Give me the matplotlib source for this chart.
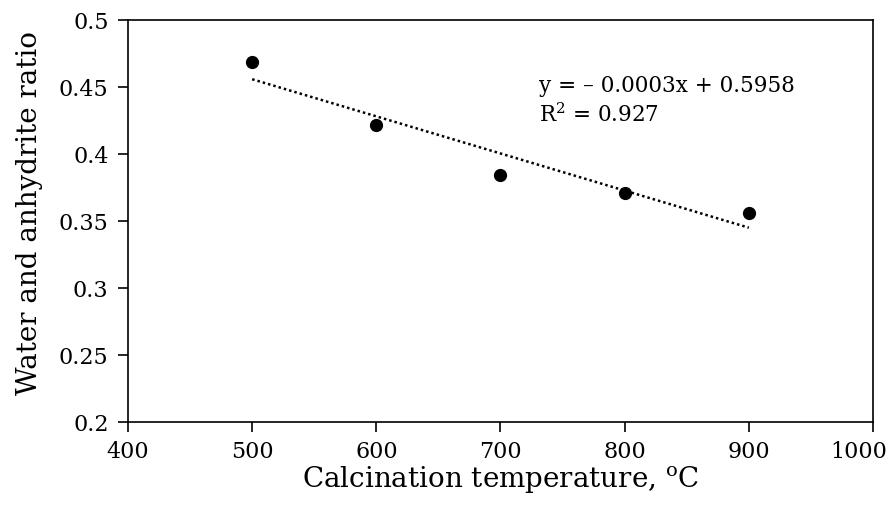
import numpy as np
import matplotlib
matplotlib.use("Agg")
import matplotlib.pyplot as plt
import matplotlib.transforms as mtransforms

plt.rcParams["font.family"] = ["DejaVu Serif"]
plt.rcParams["mathtext.fontset"] = "dejavuserif"

# data
temperature = [500, 600, 700, 800, 900]
ratio = [0.469, 0.422, 0.384, 0.371, 0.356]

xticks = [400, 500, 600, 700, 800, 900, 1000]
yticks = [0.2, 0.25, 0.3, 0.35, 0.4, 0.45, 0.5]

fig = plt.figure(figsize=(8.93, 5.07), dpi=100)
ax = fig.add_axes([128 / 893, 1 - 422 / 507, (873 - 128) / 893, (422 - 20) / 507])

# linear trendline
slope, intercept = np.polyfit(temperature, ratio, 1)
tx = np.array([temperature[0], temperature[-1]])
ax.plot(tx, slope * tx + intercept, linestyle=(0, (1, 1.2)), color="black", lw=1.8)

ax.plot(temperature, ratio, "o", color="black", markersize=8.5)

ax.text(731, 0.4463, "y = \u2013 0.0003x + 0.5958", fontsize=15.5, va="baseline", ha="left")
ax.text(731, 0.4239, "R$^2$ = 0.927", fontsize=15.5, va="baseline", ha="left")

ax.set_xlim(400, 1000)
ax.set_ylim(0.2, 0.5)
ax.set_xticks(xticks)
ax.set_yticks(yticks)
ax.set_yticklabels(["%g" % v for v in yticks])
ax.tick_params(direction="out", length=7, width=1.2, labelsize=16, pad=7)
for s in ax.spines.values():
    s.set_linewidth(1.2)

# last x label sits a little left so it stays inside the figure
last = ax.get_xticklabels()[-1]
last.set_transform(last.get_transform() +
                   mtransforms.ScaledTranslation(-14 / 100, 0, fig.dpi_scale_trans))

ax.set_xlabel("Calcination temperature, $^{\\rm o}$C", fontsize=20)
ax.set_ylabel("Water and anhydrite ratio", fontsize=20)
ax.xaxis.set_label_coords(0.5, -0.105)
ax.yaxis.set_label_coords(-0.114, 0.52)

fig.savefig("out.png", dpi=100)
